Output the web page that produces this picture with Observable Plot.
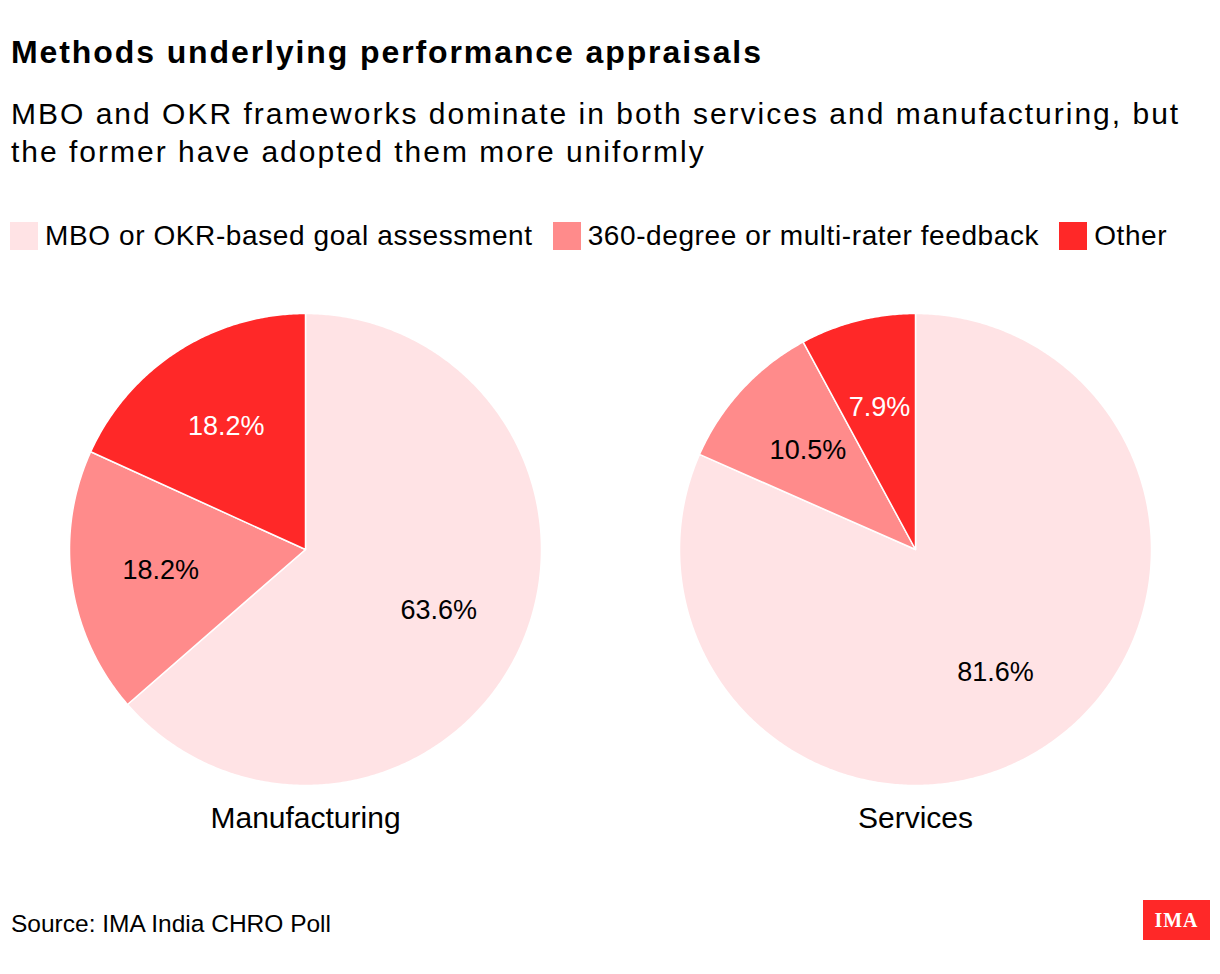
<!DOCTYPE html>
<html>
<head>
<meta charset="utf-8">
<script src="https://cdn.jsdelivr.net/npm/d3@7"></script>
<script src="https://cdn.jsdelivr.net/npm/@observablehq/plot@0.6"></script>
<style>
  html, body { margin: 0; padding: 0; background: #fff; }
  body { width: 1220px; height: 974px; position: relative; font-family: "Liberation Sans", Arial, sans-serif; color: #000; overflow: hidden; }
  #title { position: absolute; left: 11px; top: 36px; font-size: 32px; line-height: 1; letter-spacing: 1.9px; font-weight: bold; white-space: nowrap; }
  #subtitle { position: absolute; left: 11px; top: 95px; font-size: 30px; line-height: 38px; letter-spacing: 2px; width: 1200px; }
  #legend { position: absolute; left: 10px; top: 222px; display: flex; align-items: center; font-size: 28px; line-height: 1; letter-spacing: 0.6px; white-space: nowrap; }
  .item { display: flex; align-items: center; margin-right: 20px; }
  .sw { width: 28px; height: 28px; margin-right: 7px; }
  #chart { position: absolute; left: 0; top: 280px; }
  #source { position: absolute; left: 11px; top: 912px; font-size: 24.5px; line-height: 1; }
  #logo { position: absolute; left: 1143px; top: 900px; width: 67px; height: 40px; background: #ff2828; color: #fff; font-family: "Liberation Serif", serif; font-weight: bold; font-size: 20px; display: flex; align-items: center; justify-content: center; letter-spacing: 1px; }
</style>
</head>
<body>
<div id="title"></div>
<div id="subtitle"></div>
<div id="legend"></div>
<div id="chart"></div>
<div id="source"></div>
<div id="logo">IMA</div>
<script>
const titleText = "Methods underlying performance appraisals";
const subtitleLines = ["MBO and OKR frameworks dominate in both services and manufacturing, but", "the former have adopted them more uniformly"];
const sourceText = "Source: IMA India CHRO Poll";
const segments = ["MBO or OKR-based goal assessment", "360-degree or multi-rater feedback", "Other"];
const colors = ["#ffe3e5", "#ff8b8b", "#ff2828"];
const labelColors = ["#000", "#000", "#fff"];
const sectors = ["Manufacturing", "Services"];
const manufacturing = [63.6, 18.2, 18.2];
const services = [81.6, 10.5, 7.9];

document.getElementById("title").textContent = titleText;
const sub = document.getElementById("subtitle");
subtitleLines.forEach(l => { const d = document.createElement("div"); d.textContent = l; d.style.whiteSpace = "nowrap"; sub.append(d); });
document.getElementById("source").textContent = sourceText;
const legend = document.getElementById("legend");
segments.forEach((s, i) => {
  const it = document.createElement("div"); it.className = "item";
  const sw = document.createElement("div"); sw.className = "sw"; sw.style.background = colors[i];
  const tx = document.createElement("span"); tx.textContent = s;
  it.append(sw, tx); legend.append(it);
});

// layout (in pie-radius units)
const W = 1220, H = 570, R = 236;
const centerGap = 610 / R;       // distance between pie centres
const cxPx = 305, cyPx = 269;
const values = [manufacturing, services];

const poly = [], labels = [], names = [];
values.forEach((vals, si) => {
  const cx = si * centerGap, cy = 0;
  const total = d3.sum(vals);
  let acc = 0;
  vals.forEach((v, k) => {
    const a0 = acc / total * 2 * Math.PI;
    acc += v;
    const a1 = acc / total * 2 * Math.PI;
    const id = si + "-" + k;
    poly.push({id, segment: segments[k], x: cx, y: cy});
    const steps = Math.max(2, Math.ceil((a1 - a0) / (Math.PI / 360)));
    for (let j = 0; j <= steps; j++) {
      const a = a0 + (a1 - a0) * j / steps;
      poly.push({id, segment: segments[k], x: cx + Math.sin(a), y: cy + Math.cos(a)});
    }
    poly.push({id, segment: segments[k], x: cx, y: cy});
    const am = (a0 + a1) / 2, rl = 0.62;
    labels.push({x: cx + rl * Math.sin(am), y: cy + rl * Math.cos(am), text: v.toFixed(1) + "%", color: labelColors[k]});
  });
  names.push({x: cx, y: -1.14, text: sectors[si]});
});

const chart = Plot.plot({
  width: W, height: H,
  marginTop: 0, marginBottom: 0, marginLeft: 0, marginRight: 0,
  x: {domain: [-cxPx / R, (W - cxPx) / R], range: [0, W], axis: null},
  y: {domain: [-(H - cyPx) / R, cyPx / R], range: [H, 0], axis: null},
  color: {domain: segments, range: colors},
  style: {fontFamily: "Liberation Sans, Arial, sans-serif", background: "transparent"},
  marks: [
    Plot.line(poly, {x: "x", y: "y", z: "id", fill: "segment", stroke: "white", strokeWidth: 1.5, curve: "linear"}),
    Plot.text(labels, {x: "x", y: "y", text: "text", fill: d => d.color, fontSize: 27}),
    Plot.text(names, {x: "x", y: "y", text: "text", fill: "#000", fontSize: 30})
  ]
});
document.getElementById("chart").append(chart);
</script>
</body>
</html>
